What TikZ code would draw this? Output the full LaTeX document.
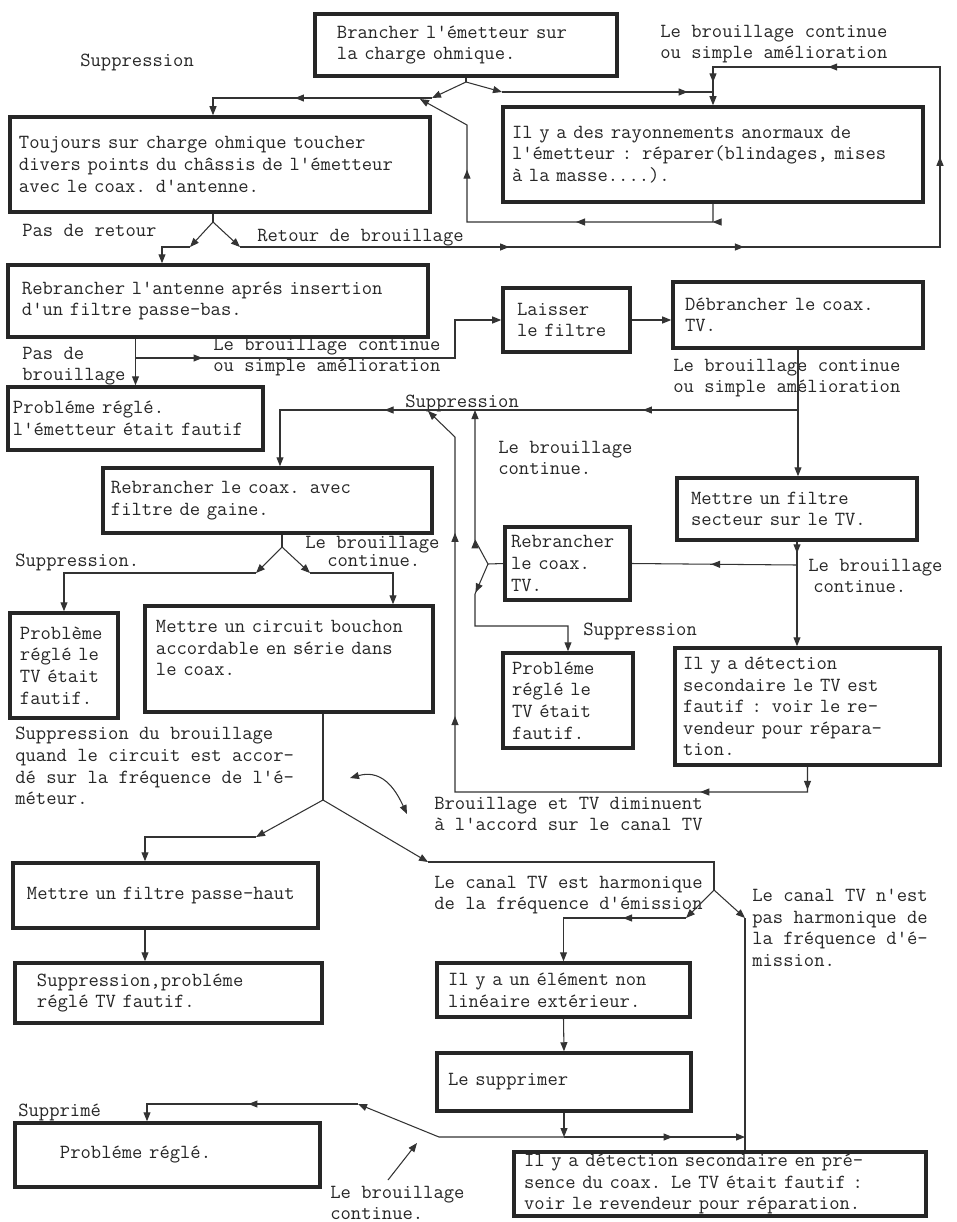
\documentclass[tikz,border=0pt]{standalone}
\usepackage{tikz}
\usetikzlibrary{arrows.meta, decorations.markings, calc}

\begin{document}
\begin{tikzpicture}[x=0.2mm, y=-0.2mm,
      font=\ttfamily\fontsize{11.4}{12.3}\selectfont,
      >={Triangle[length=1.8mm, width=1.4mm]},
      blk/.style={draw=black!85, text=black!85, line width=2pt,
                  align=left, inner ysep=0pt},
      lbl/.style={align=left, inner sep=0pt, anchor=west, text=black!85},
      arr/.style={draw=black!80, line width=0.6pt},
      mk/.style={postaction={decorate, decoration={markings,
                 mark=at position #1 with {\arrow{>}}}}}]
      \useasboundingbox (0,0) rectangle (957,1222);
      \fill[white] (0,0) rectangle (957,1222);

      % Charge ohmique
      \node[blk, text width=51.6mm, inner xsep=4.4mm, minimum height=12.4mm] (A)
        at (466,45) {Brancher l'émetteur sur\\la charge ohmique.};
      \node[blk, text width=80.4mm, inner xsep=1.8mm, minimum height=19mm] (B)
        at (220,164.5) {Toujours sur charge ohmique toucher\\divers points du châssis de l'émetteur\\avec le coax. d'antenne.};
      \node[blk, text width=80.4mm, inner xsep=1.8mm, minimum height=19mm] (C)
        at (713,154.5) {Il y a des rayonnements anormaux de\\l'émetteur : réparer(blindages, mises\\à la masse....).};
      \node[lbl] (l1) at (80,62) {Suppression};
      \node[lbl] (l2) at (660,44) {Le brouillage continue\\ou simple amélioration};
      \node[lbl] (l3) at (22,230) {Pas de retour};
      \node[lbl] (l4) at (257,238) {Retour de brouillage};

      % Filtre passe-bas
      \node[blk, text width=78.4mm, inner xsep=2.8mm, minimum height=14.4mm] (D)
        at (218,301) {Rebrancher l'antenne aprés insertion\\d'un filtre passe-bas.};
      \node[blk, text width=49mm, inner xsep=1mm, minimum height=12.6mm] (E)
        at (135.5,418.5) {Probléme réglé.\\l'émetteur était fautif};
      \node[blk, text width=19.8mm, inner xsep=2.8mm, minimum height=12.8mm] (F)
        at (566.5,320) {Laisser\\le filtre};
      \node[blk, text width=45.2mm, inner xsep=2.4mm, minimum height=13.2mm] (G)
        at (798,315) {Débrancher le coax.\\TV.};
      \node[lbl] (l5) at (22,366) {Pas de\\brouillage};
      \node[lbl] (l6) at (213,357) {Le brouillage continue\\ou simple amélioration};
      \node[lbl] (l7) at (673,378) {Le brouillage continue\\ou simple amélioration};
      \node[lbl] (l8) at (405,403) {Suppression};

      % Coax TV
      \node[blk, text width=62.6mm, inner xsep=1.6mm, minimum height=13mm] (I)
        at (267.5,500.5) {Rebrancher le coax. avec\\filtre de gaine.};
      \node[blk, text width=42.4mm, inner xsep=2.8mm, minimum height=12.4mm] (H)
        at (797,509) {Mettre un filtre\\secteur sur le TV.};
      \node[blk, text width=22.6mm, inner xsep=1.2mm, minimum height=14.6mm] (K)
        at (567.5,563.5) {Rebrancher\\le coax.\\TV.};
      \node[blk, text width=17.6mm, inner xsep=2mm, minimum height=21mm] (J)
        at (64,665.5) {Problème\\réglé le\\TV était\\fautif.};
      \node[blk, text width=53.2mm, inner xsep=2.2mm, minimum height=21.2mm] (N)
        at (289,659) {Mettre un circuit bouchon\\accordable en série dans\\le coax.\\\mbox{}};
      \node[blk, text width=22.4mm, inner xsep=1.8mm, minimum height=19mm] (M)
        at (568,700.5) {Probléme\\réglé le\\TV était\\fautif.};
      \node[blk, text width=49.8mm, inner xsep=1.6mm, minimum height=23.4mm] (L)
        at (807.5,706.5) {Il y a détection\\secondaire le TV est\\fautif : voir le re-\\vendeur pour répara-\\tion.};
      \node[lbl] (l9) at (498,458) {Le brouillage\\continue.};
      \node[lbl] (l10) at (15,562) {Suppression.};
      \node[lbl] (l11) at (305,551) {Le brouillage\\[-0.7mm]\hspace*{4.4mm}continue.};
      \node[lbl] (l12) at (583,631) {Suppression};
      \node[lbl] (l13) at (808,576) {Le brouillage\\\hspace*{1mm}continue.};

      % Circuit bouchon
      \node[blk, text width=55.4mm, inner xsep=2.8mm, minimum height=13mm] (O)
        at (165.5,895.5) {\mbox{Mettre un filtre passe-haut}};
      \node[blk, text width=52.6mm, inner xsep=4.4mm, minimum height=12mm] (T)
        at (168.5,993) {Suppression,probléme\\réglé TV fautif.};
      \node[blk, text width=46.2mm, inner xsep=2.2mm, minimum height=10.8mm] (P)
        at (563.5,990) {Il y a un élément non\\linéaire extérieur.};
      \node[blk, text width=46.4mm, inner xsep=2.2mm, minimum height=11.6mm] (Q)
        at (564,1082) {Le supprimer};
      \node[blk, text width=43mm, inner xsep=9mm, minimum height=12.8mm] (R)
        at (167.5,1155) {Probléme réglé.};
      \node[blk, text width=78.4mm, inner xsep=2mm, minimum height=12.8mm] (S)
        at (720,1184) {Il y a détection secondaire en pré-\\sence du coax. Le TV était fautif :\\voir le revendeur pour réparation.};
      \node[lbl] (l14) at (15,766) {Suppression du brouillage\\quand le circuit est accor-\\dé sur la fréquence de l'é-\\méteur.};
      \node[lbl] (l15) at (434,814) {Brouillage et TV diminuent\\à l'accord sur le canal TV};
      \node[lbl] (l16) at (434,895) {Le canal TV est harmonique\\de la fréquence d'émission};
      \node[lbl] (l17) at (752,928) {Le canal TV n'est\\pas harmonique de\\la fréquence d'é-\\mission.};
      \node[lbl] (l18) at (18,1112) {Supprimé};
      \node[lbl] (l19) at (330,1203) {Le brouillage\\continue.};

      % Points de jonction
      \coordinate (a1) at (466,82);
      \coordinate (tl) at (432,98);
      \coordinate (bt) at (213,98);
      \coordinate (tr) at (502,92);
      \coordinate (cj) at (713,92);
      \coordinate (b1) at (213,222);
      \coordinate (bl) at (190,247);
      \coordinate (br) at (240,247);
      \coordinate (d0) at (162,247);
      \coordinate (rb) at (940,247);
      \coordinate (rt) at (940,67);
      \coordinate (ct) at (713,67);
      \coordinate (cb) at (713,222);
      \coordinate (cl) at (467,222);
      \coordinate (cu) at (467,125);
      \coordinate (tj) at (420,99);
      \coordinate (dj) at (135.5,358);
      \coordinate (dk) at (455,358);
      \coordinate (gj) at (798,410);
      \coordinate (ij) at (280,410);
      \coordinate (hj) at (797,565);
      \coordinate (kj) at (488,564);
      \coordinate (ku) at (475,540);
      \coordinate (kt) at (475,410);
      \coordinate (kd) at (475,594);
      \coordinate (km) at (475,626);
      \coordinate (lj) at (807.5,792);
      \coordinate (ll) at (455,792);
      \coordinate (lu) at (455,437);
      \coordinate (lt) at (428,411);
      \coordinate (ia) at (282,547);
      \coordinate (il) at (256,573);
      \coordinate (jl) at (64,573);
      \coordinate (ir) at (310,573);
      \coordinate (in) at (393,573);
      \coordinate (na) at (323,800);
      \coordinate (nl) at (256,837);
      \coordinate (no) at (145,837);
      \coordinate (nr) at (428,862);
      \coordinate (hc) at (714,862);
      \coordinate (hf) at (714,890);
      \coordinate (lf) at (686,918);
      \coordinate (pj) at (563.5,918);
      \coordinate (rf) at (745,918);
      \coordinate (qj) at (564,1137);
      \coordinate (qr) at (745,1137);
      \coordinate (ql) at (439,1137);
      \coordinate (qd) at (358,1104);
      \coordinate (rj) at (147,1104);
      \coordinate (cv1) at (350,778);
      \coordinate (cv2) at (407,814);
      \coordinate (pa) at (388,1180);
      \coordinate (pb) at (417,1143);

      % Liaisons du haut
      \draw[arr] (A.south) -- (a1);
      \draw[arr, ->] (a1) -- (tl);
      \draw[arr, ->] (a1) -- (tr);
      \draw[arr, ->, mk=0.58] (tl) -- (bt) -- (bt |- B.north);
      \draw[arr, mk=0.88] (tr) -- (cj);
      \draw[arr] (B.south -| b1) -- (b1);
      \draw[arr, ->] (b1) -- (bl);
      \draw[arr, ->] (b1) -- (br);
      \draw[arr, ->] (bl) -- (d0) -- (d0 |- D.north);
      \draw[arr, ->, mk=0.235, mk=0.44, mk=0.69, mk=0.866, mk=0.98]
        (br) -- (rb) -- (rt) -- (ct) -- (C.north);
      \draw[arr, ->, mk=0.045, mk=0.374, mk=0.763]
        (C.south) -- (cb) -- (cl) -- (cu) -- (tj);

      % Liaisons du milieu
      \draw[arr, ->] (D.south -| dj) -- (E.north);
      \draw[arr, ->, mk=0.166] (dj) -- (dk) |- (F.west);
      \draw[arr, ->] (F.east) -- (F.east -| G.west);
      \draw[arr, ->] (G.south) -- (G.south |- H.north);
      \draw[arr, ->, mk=0.27, mk=0.72] (gj) -- (ij) -- (ij |- I.north);
      \draw[arr, ->, mk=0.11] (H.south) -- (H.south |- L.north);
      \draw[arr, mk=0.52] (hj) -- (K.east);
      \draw[arr, ->, mk=0.25] (K.west) -- (kj) -- (ku) -- (kt);
      \draw[arr, ->, mk=0.17] (kj) -- (kd) -- (km) -| (M.north);
      \draw[arr, ->, mk=0.03, mk=0.172, mk=0.589, mk=0.827]
        (L.south) -- (lj) -- (ll) -- (lu) -- (lt);
      \draw[arr] (I.south -| ia) -- (ia);
      \draw[arr, ->] (ia) -- (il);
      \draw[arr, ->] (il) -- (jl) -- (J.north);
      \draw[arr, ->] (ia) -- (ir);
      \draw[arr, ->] (ir) -- (in) -- (in |- N.north);

      % Liaisons du bas
      \draw[arr] (N.south -| na) -- (na);
      \draw[arr, ->] (na) -- (nl);
      \draw[arr, ->] (nl) -- (no) -- (no |- O.north);
      \draw[arr, ->] (na) -- (nr);
      \draw[arr] (nr) -- (hc) -- (hf);
      \draw[arr, ->] (hf) -- (lf);
      \draw[arr, ->, mk=0.38] (lf) -- (pj) -- (P.north);
      \draw[arr, ->] (hf) -- (rf);
      \draw[arr] (rf) -- (rf |- S.north);
      \draw[arr, ->] (O.south -| no) -- (no |- T.north);
      \draw[arr, ->] (P.south) -- (Q.north);
      \draw[arr, ->] (Q.south) -- (qj);
      \draw[arr, ->, mk=0.6] (qj) -- (qr);
      \draw[arr, ->] (qj) -- (ql) -- (qd);
      \draw[arr, ->, mk=0.48] (qd) -- (rj) -- (rj |- R.north);
      \draw[arr, <->] (cv1) .. controls (385,768) and (398,795) .. (cv2);
      \draw[arr, ->] (pa) -- (pb);
    \end{tikzpicture}
\end{document}
